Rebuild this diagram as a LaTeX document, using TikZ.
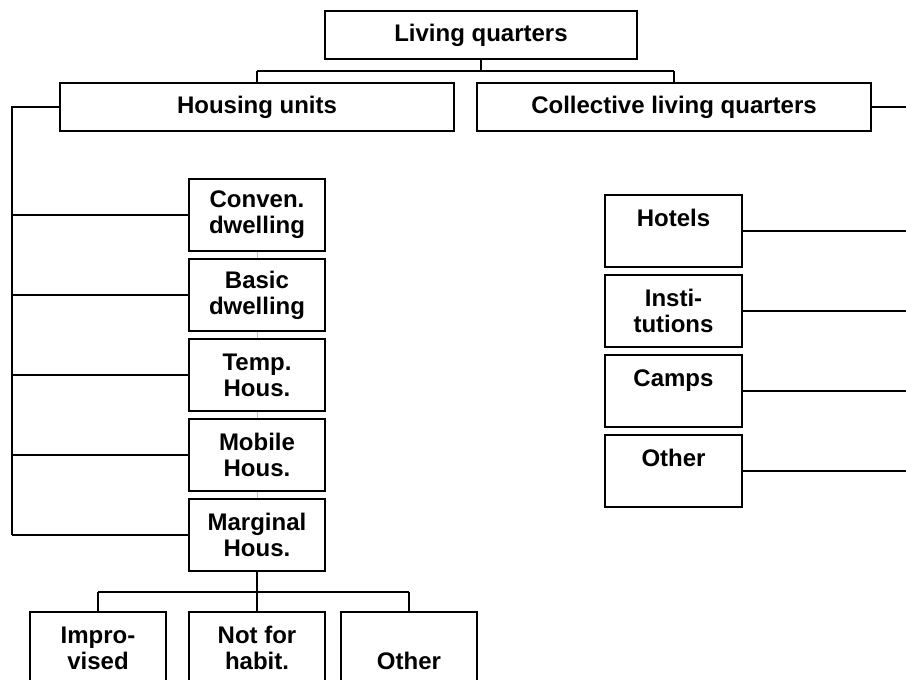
\documentclass[tikz,border=0pt]{standalone}
\usepackage{fontspec}
\setmainfont{Liberation Sans}
\begin{document}
\begin{tikzpicture}[x=1pt,y=-1pt,
  box/.style={draw=black, line width=1.5pt, fill=white, rectangle, inner sep=0pt,
    align=center, font=\fontsize{24pt}{26pt}\selectfont\bfseries},
  wide/.style={box, minimum width=394pt, minimum height=48pt},
  small/.style={box, minimum width=136pt, minimum height=72pt},
  thin/.style={line width=1.2pt},
  thick/.style={line width=2.5pt},
  faint/.style={line width=0.6pt, gray!50}]
\useasboundingbox (0,0) rectangle (906,680);
\fill[white] (0,0) rectangle (906,680);

% top level
\node[box, minimum width=312pt, minimum height=48pt] (lq) at (481,35) {Living quarters};
\node[wide] (hu) at (257,107) {Housing units};
\node[wide] (clq) at (674,107) {Collective living quarters};

% housing units column
\node[small] (conv) at (257,215) {Conven.\\dwelling};
\node[small] (basic) at (257,295) {Basic\\dwelling};
\node[small] (temp) at (257,375) {Temp.\\Hous.};
\node[small] (mob) at (257,455) {Mobile\\Hous.};
\node[small] (marg) at (257,535) {Marginal\\Hous.};

% collective column
\node[small, minimum width=137pt] (hot) at (673.5,231) {Hotels\\\mbox{}};
\node[small, minimum width=137pt] (inst) at (673.5,311) {Insti-\\tutions};
\node[small, minimum width=137pt] (camp) at (673.5,391) {Camps\\\mbox{}};
\node[small, minimum width=137pt] (coth) at (673.5,471) {Other\\\mbox{}};

% marginal children
\node[small] (impr) at (98,648) {Impro-\\vised};
\node[small] (nfh) at (257,648) {Not for\\habit.};
\node[small] (moth) at (409,648) {\strut\\Other};

% coordinates
\coordinate (t0) at (481,71);
\coordinate (tl) at (257,71);
\coordinate (tr) at (674,71);
\coordinate (bustop) at (12,107);
\coordinate (busbot) at (12,535);
\coordinate (rend) at (906,107);
\coordinate (m0) at (257,592);
\coordinate (ml) at (98,592);
\coordinate (mr) at (409,592);

% connectors top
\draw[thin] (lq.south) -- (t0);
\draw[thin] (tl) -- (tr);
\draw[thin] (tl) -- (hu.north);
\draw[thin] (tr) -- (clq.north);

% housing units bus
\draw[thick] (hu.west) -- (bustop) -- (busbot);
\foreach \n in {conv,basic,temp,mob,marg}{
  \draw[thin] (\n.west) -- (\n.west -| bustop);
}

% faint stubs between stacked boxes
\draw[faint] (conv.south) -- (basic.north);
\draw[faint] (basic.south) -- (temp.north);
\draw[faint] (temp.south) -- (mob.north);
\draw[faint] (mob.south) -- (marg.north);

% collective
\draw[thick] (clq.east) -- (rend);
\foreach \n in {hot,inst,camp,coth}{
  \draw[thin] (\n.east) -- (\n.east -| rend);
}

% marginal children
\draw[thick] (marg.south) -- (m0);
\draw[thin] (ml) -- (mr);
\draw[thin] (ml) -- (impr.north);
\draw[thin] (m0) -- (nfh.north);
\draw[thin] (mr) -- (moth.north);
\end{tikzpicture}
\end{document}
